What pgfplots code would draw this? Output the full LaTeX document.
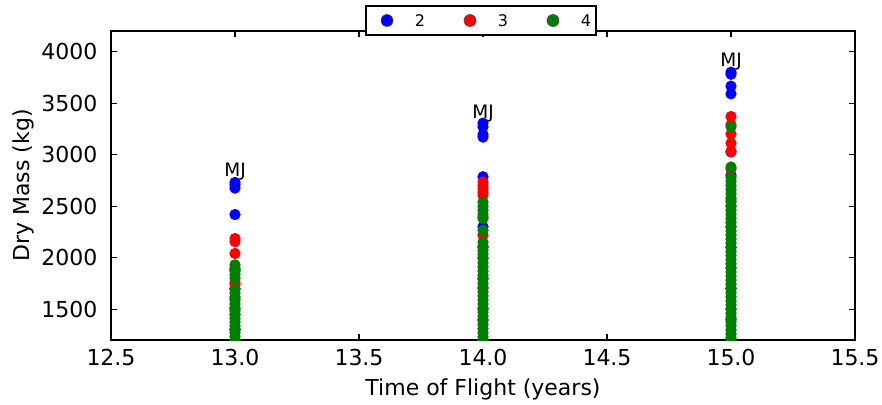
\documentclass[border=0pt]{standalone}
\usepackage{pgfplots}
\pgfplotsset{compat=1.18}
\usepackage{fontspec}
\setmainfont{DejaVu Sans}
\definecolor{mblue}{rgb}{0,0,1}
\definecolor{mred}{rgb}{1,0,0}
\definecolor{mgreen}{rgb}{0,0.5,0}
\begin{document}
\begin{tikzpicture}
\useasboundingbox (-55.5pt,-32pt) rectangle (385.5pt,170pt);
\begin{axis}[
  scale only axis, width=372pt, height=154.5pt,
  xmin=12.5, xmax=15.5, ymin=1200, ymax=4200,
  xtick={12.5,13.0,13.5,14.0,14.5,15.0,15.5},
  ytick={1500,2000,2500,3000,3500,4000},
  tick align=inside, major tick length=3pt,
  axis line style={line width=0.6pt}, tick style={line width=0.6pt, black},
  ticklabel style={font=\fontsize{11}{13}\selectfont},
  /pgf/number format/assume math mode=true,
  xticklabel style={yshift=-1pt, /pgf/number format/.cd, fixed, fixed zerofill, precision=1},
  yticklabel style={xshift=-3.3pt, /pgf/number format/.cd, set thousands separator={}},
  xlabel={Time of Flight (years)}, ylabel={Dry Mass (kg)},
  label style={font=\fontsize{11}{13}\selectfont},
  xlabel style={at={(axis description cs:0.5,0)}, anchor=base, yshift=-27.85pt},
  ylabel style={at={(axis description cs:0,0.5)}, anchor=north, inner sep=0pt, yshift=49.5pt},
  clip marker paths=true,
  legend columns=3,
  legend style={at={(axis description cs:0.4973,1.034)}, anchor=center,
    draw=black, line width=0.6pt, inner xsep=2.45pt, inner ysep=3.75pt,
    font=\fontsize{8}{9}\selectfont,
    nodes={inner sep=0pt, text depth=0pt},
    /tikz/every even column/.append style={column sep=14.4pt}},
  legend image code/.code={\path[draw=none,fill=none] (0pt,-3.5pt) rectangle (22pt,3.5pt);
    \draw[#1, mark size=3pt, mark options={draw=black!70, line width=0.3pt}] plot coordinates {(8.05pt,0pt)};},
]
\addplot[only marks, mark=*, mark size=2.6pt, color=mblue, mark options={draw=mblue, fill=mblue}] coordinates {
(13,2730)(13,2705)(13,2675)(13,2418)(13,1880)(13,1700)(13,1500)(13,1300)
(14,3305)(14,3270)(14,3195)(14,3170)(14,2785)(14,2300)(14,2100)(14,1800)(14,1500)
(15,3800)(15,3780)(15,3665)(15,3590)(15,3025)(15,2800)(15,2500)(15,2100)(15,1700)(15,1400)
};
\addlegendentry{2}
\addplot[only marks, mark=*, mark size=2.6pt, color=mred, mark options={draw=mred, fill=mred}] coordinates {
(13,2185)(13,2155)(13,2040)(13,1760)(13,1740)(13,1600)(13,1450)(13,1300)
(14,2735)(14,2700)(14,2670)(14,2635)(14,2605)(14,2395)(14,2217)(14,2000)(14,1700)(14,1400)
(15,3370)(15,3290)(15,3200)(15,3110)(15,3030)(15,2860)(15,2560)(15,2300)(15,1900)(15,1500)
};
\addlegendentry{3}
\addplot[only marks, mark=*, mark size=2.6pt, color=mgreen, mark options={draw=mgreen, fill=mgreen}] coordinates {
(13,1930)(13,1900)(13,1870)(13,1835)(13,1800)
(13,1690)(13,1655)(13,1620)(13,1585)(13,1550)(13,1515)(13,1480)(13,1445)(13,1410)(13,1375)(13,1340)(13,1305)(13,1270)(13,1235)(13,1200)
(14,2540)(14,2495)(14,2460)(14,2420)(14,2380)(14,2265)
(14,2150)(14,2110)(14,2070)(14,2030)(14,1990)(14,1950)(14,1910)(14,1870)(14,1830)(14,1790)(14,1750)(14,1710)(14,1670)(14,1630)(14,1590)(14,1550)(14,1510)(14,1470)(14,1430)(14,1390)(14,1350)(14,1310)(14,1270)(14,1230)(14,1200)
(15,3270)(15,2880)
(15,2780)(15,2740)(15,2700)(15,2660)(15,2620)(15,2580)(15,2540)(15,2500)(15,2460)(15,2420)(15,2380)(15,2340)(15,2300)(15,2260)(15,2220)(15,2180)(15,2140)(15,2100)(15,2060)(15,2020)(15,1980)(15,1940)(15,1900)(15,1860)(15,1820)(15,1780)(15,1740)(15,1700)(15,1660)(15,1620)(15,1580)(15,1540)(15,1500)(15,1460)(15,1420)(15,1380)(15,1340)(15,1300)(15,1260)(15,1220)(15,1200)
};
\addlegendentry{4}
\node[anchor=base, inner sep=0pt, font=\fontsize{9.25}{11}\selectfont] at (axis cs:13,2790) {MJ};
\node[anchor=base, inner sep=0pt, font=\fontsize{9.25}{11}\selectfont] at (axis cs:14,3354) {MJ};
\node[anchor=base, inner sep=0pt, font=\fontsize{9.25}{11}\selectfont] at (axis cs:15,3855) {MJ};
\end{axis}
\end{tikzpicture}
\end{document}
